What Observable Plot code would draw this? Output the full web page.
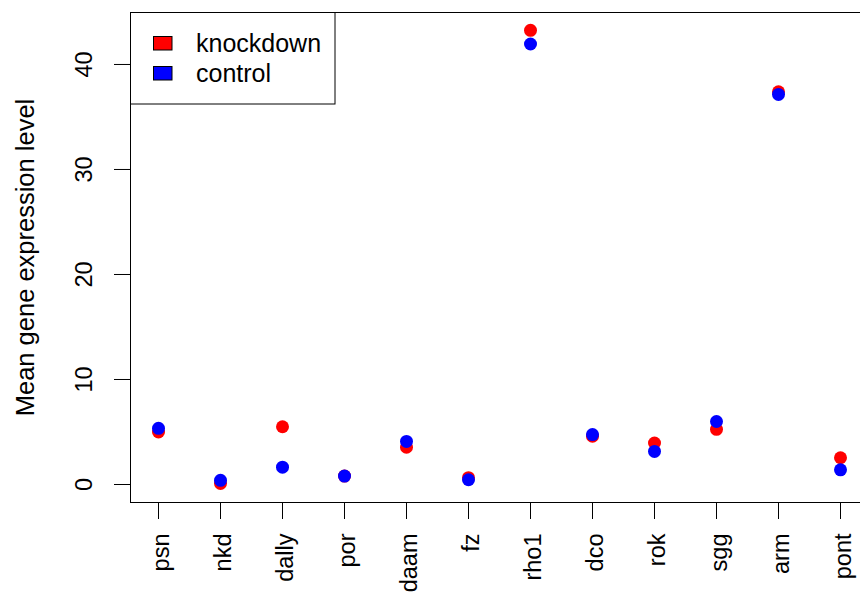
<!DOCTYPE html>
<html>
<head>
<meta charset="utf-8">
<script src="https://cdn.jsdelivr.net/npm/d3@7"></script>
<script src="https://cdn.jsdelivr.net/npm/@observablehq/plot@0.6"></script>
<style>
html, body { margin: 0; padding: 0; background: #fff; overflow: hidden; width: 860px; height: 594px; }
#wrap { position: relative; width: 860px; height: 594px; overflow: hidden; }
#wrap svg { display: block; max-width: none !important; }
#legend { position: absolute; left: 0; top: 0; pointer-events: none; }
</style>
</head>
<body>
<div id="wrap"></div>
<script>
const genes = ["psn", "nkd", "dally", "por", "daam", "fz", "rho1", "dco", "rok", "sgg", "arm", "pont"];
const knockdown = [5.0, 0.1, 5.5, 0.8, 3.55, 0.65, 43.25, 4.6, 3.95, 5.25, 37.4, 2.55];
const control   = [5.35, 0.4, 1.65, 0.8, 4.1, 0.45, 41.95, 4.75, 3.15, 6.0, 37.15, 1.4];
const seriesNames = ["knockdown", "control"];
const seriesColors = ["#FF0000", "#0000FF"];
const yTicks = [0, 10, 20, 30, 40];
const yLabel = "Mean gene expression level";

const seriesValues = [knockdown, control];
const rows = [];
seriesNames.forEach((s, i) => {
  genes.forEach((g, j) => rows.push({gene: g, value: seriesValues[i][j], series: s}));
});

const FONT = "'Liberation Sans', Arial, Helvetica, sans-serif";

const plot = Plot.plot({
  width: 869,
  height: 594,
  marginLeft: 130,
  marginRight: 1,
  marginTop: 12,
  marginBottom: 92,
  style: {fontFamily: FONT, background: "#fff", color: "#000", maxWidth: "none"},
  x: {type: "point", domain: genes, padding: 0.44, axis: null},
  y: {domain: [-1.714, 44.95], axis: null},
  color: {domain: seriesNames, range: seriesColors},
  marks: [
    Plot.axisY(yTicks, {tickSize: 16, tickFormat: () => "", label: null, stroke: "#000"}),
    Plot.axisX(genes, {tickSize: 17, tickFormat: () => "", label: null, stroke: "#000"}),
    Plot.text(yTicks, {y: d => d, text: d => String(d), frameAnchor: "left", dx: -46, rotate: -90,
      textAnchor: "middle", lineAnchor: "middle", fontSize: 23.5, fill: "#000"}),
    Plot.text(genes, {x: d => d, text: d => d, frameAnchor: "bottom", dy: 31, dx: 10, rotate: -90,
      textAnchor: "end", lineAnchor: "bottom", fontSize: 23.5, fill: "#000"}),
    Plot.text([yLabel], {text: d => d, frameAnchor: "left", dx: -96.5, rotate: -90,
      textAnchor: "middle", lineAnchor: "bottom", fontSize: 25.5, fill: "#000"}),
    Plot.dot(rows, {x: "gene", y: "value", fill: "series", r: 6.5, stroke: null}),
    Plot.frame({stroke: "#000", strokeWidth: 1})
  ]
});

const wrap = document.getElementById("wrap");
wrap.appendChild(plot);

// Legend (top-left, inside plot area)
const lg = d3.select(wrap).append("svg")
  .attr("id", "legend")
  .attr("width", 860).attr("height", 594)
  .style("font-family", FONT);
lg.append("rect")
  .attr("x", 130.5).attr("y", 12.5).attr("width", 204.5).attr("height", 91.5)
  .attr("fill", "#fff").attr("stroke", "#000").attr("stroke-width", 1);
seriesNames.forEach((s, i) => {
  lg.append("rect")
    .attr("x", 153.5).attr("y", 36.5 + i * 30).attr("width", 18.5).attr("height", 13.5)
    .attr("fill", seriesColors[i]).attr("stroke", "#000").attr("stroke-width", 1);
  lg.append("text")
    .attr("x", 196).attr("y", 51.7 + i * 30)
    .attr("font-size", 25).attr("fill", "#000")
    .text(s);
});
</script>
</body>
</html>
